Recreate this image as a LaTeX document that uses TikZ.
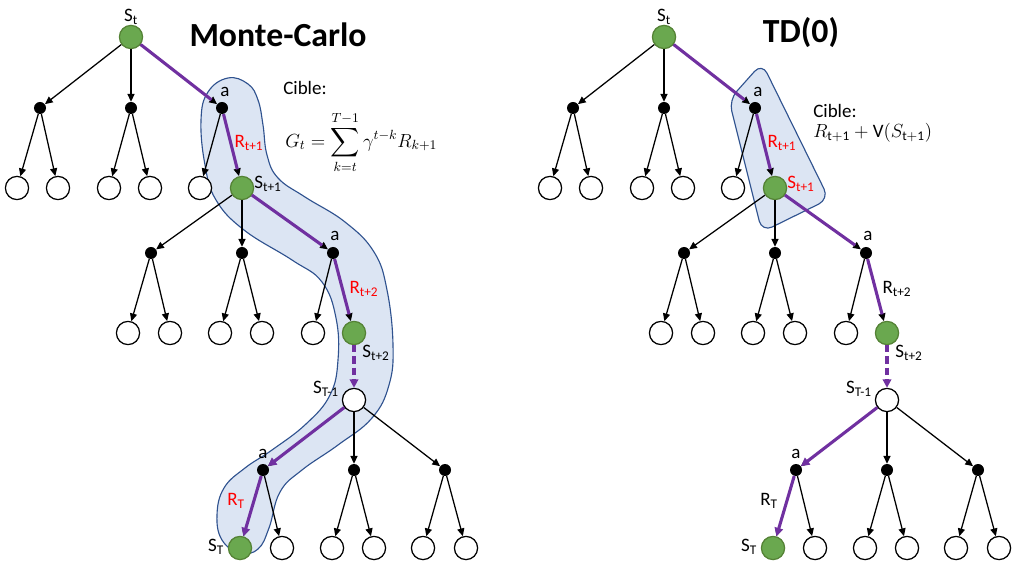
\RequirePackage{fix-cm}
\documentclass[tikz,border=0pt]{standalone}
\usepackage{amsmath}
\usepackage{fontspec}
\setmainfont{Carlito}
\usetikzlibrary{arrows.meta}

\definecolor{violetchemin}{RGB}{112,48,160}
\definecolor{vertfeuille}{RGB}{106,168,79}
\definecolor{vertbord}{RGB}{84,130,53}
\definecolor{bleuzone}{RGB}{220,229,243}
\definecolor{bordzone}{RGB}{47,82,143}

\tikzset{
  etat/.style={draw, circle, line width=0.9pt, minimum size=0.58cm, inner sep=0pt, fill=white},
  vert/.style={etat, fill=vertfeuille, draw=vertbord},
  action/.style={circle, fill=black, minimum size=0.3cm, inner sep=0pt},
  fleche/.style={-{Triangle[length=5.5pt,width=5pt]}, line width=0.9pt},
  chemin/.style={draw=violetchemin, line width=2.2pt},
  bout/.style={-{Triangle[length=6pt,width=6pt]}},
  etiq/.style={font=\fontsize{13.5}{16}\selectfont, inner sep=0pt},
  titre/.style={font=\fontsize{24}{29}\selectfont\bfseries, inner sep=0pt},
  zone/.style={fill=bleuzone, draw=bordzone, line width=0.8pt}
}

\begin{document}
\begin{tikzpicture}[x=0.025cm, y=-0.025cm]
		\useasboundingbox (0,0) rectangle (1024,576);
		% zones surlignees
		\draw[zone] plot[smooth cycle, tension=0.7] coordinates {(228,78) (248,84) (258,100) (263,125) (267,155) (278,178) (305,197) (345,222) (374,252) (387,290) (393,345) (389,385) (372,418) (338,445) (302,470) (280,492) (269,528) (258,549) (240,553) (222,540) (217,515) (224,488) (245,468) (272,450) (306,424) (330,395) (338,360) (336,318) (322,282) (292,260) (244,230) (216,200) (205,165) (201,120) (208,92)};
		\draw[zone, rounded corners=8pt] (729,100) -- (762,63) -- (829,199) -- (762,232) -- cycle;
		% titres et cibles
		\node[titre] (mc) at (278,35) {Monte-Carlo};
		\node[titre] (td) at (801,33) {TD(0)};
		\node[etiq, anchor=west] (cible1) at (283,88) {Cible:};
		\node[etiq, anchor=west] (gt) at (285,142) {$\displaystyle G_t=\sum_{k=t}^{T-1}\gamma^{t-k}R_{k+1}$};
		\node[etiq, anchor=west] (cible2) at (813,111) {Cible:};
		\node[etiq, anchor=west] (vt) at (813,133) {$R_{\mathrm{t+1}}+\mathrm{V}(S_{\mathrm{t+1}})$};
		% les deux arbres
		\foreach \p/\dx/\cs/\cr in {m/0/black/red, t/533/red/black}{
		\begin{scope}[xshift=\dx*0.025cm]
		\node[vert] (\p st) at (131,37) {};
		\node[action] (\p d1) at (40,108) {};
		\node[action] (\p d2) at (131,108) {};
		\node[action] (\p d3) at (222,108) {};
		\node[etat] (\p l1) at (17,188) {};
		\node[etat] (\p l2) at (58,188) {};
		\node[etat] (\p l3) at (109,188) {};
		\node[etat] (\p l4) at (150,188) {};
		\node[etat] (\p l5) at (200,188) {};
		\node[vert] (\p st1) at (242,188) {};
		\node[action] (\p e1) at (151,253) {};
		\node[action] (\p e2) at (242,253) {};
		\node[action] (\p e3) at (333,253) {};
		\node[etat] (\p m1) at (128,333) {};
		\node[etat] (\p m2) at (170,333) {};
		\node[etat] (\p m3) at (220,333) {};
		\node[etat] (\p m4) at (262,333) {};
		\node[etat] (\p m5) at (313,333) {};
		\node[vert] (\p st2) at (354,333) {};
		\node[etat] (\p sT1) at (354,400) {};
		\node[action] (\p f1) at (263,470) {};
		\node[action] (\p f2) at (354,470) {};
		\node[action] (\p f3) at (445,470) {};
		\node[vert] (\p sT) at (240,548) {};
		\node[etat] (\p n1) at (282,548) {};
		\node[etat] (\p n2) at (332,548) {};
		\node[etat] (\p n3) at (374,548) {};
		\node[etat] (\p n4) at (423,548) {};
		\node[etat] (\p n5) at (466,548) {};
		\path[fleche]
		(\p st) edge (\p d1) edge (\p d2) edge (\p d3)
		(\p d1) edge (\p l1) edge (\p l2)
		(\p d2) edge (\p l3) edge (\p l4)
		(\p d3) edge (\p l5) edge (\p st1)
		(\p st1) edge (\p e1) edge (\p e2) edge (\p e3)
		(\p e1) edge (\p m1) edge (\p m2)
		(\p e2) edge (\p m3) edge (\p m4)
		(\p e3) edge (\p m5) edge (\p st2)
		(\p sT1) edge (\p f1) edge (\p f2) edge (\p f3)
		(\p f1) edge (\p sT) edge (\p n1)
		(\p f2) edge (\p n2) edge (\p n3)
		(\p f3) edge (\p n4) edge (\p n5);
		% trajectoire
		\draw[chemin, shorten >=5pt] (\p st) -- (\p d3);
		\draw[chemin, shorten >=5pt] (\p d3) -- (\p st1);
		\draw[chemin, shorten >=5pt] (\p st1) -- (\p e3);
		\draw[chemin, shorten >=5pt] (\p e3) -- (\p st2);
		\draw[chemin, bout, dash pattern=on 5pt off 3pt] (\p st2) -- (\p sT1);
		\draw[chemin, bout] (\p sT1) -- (\p f1);
		\draw[chemin, bout] (\p f1) -- (\p sT);
		% etiquettes
		\node[etiq] (\p lst) at (131,17) {S\textsubscript{t}};
		\node[etiq] (\p la1) at (225,92) {a};
		\node[etiq, text=red] (\p lr1) at (249,143) {R\textsubscript{t+1}};
		\node[etiq, text=\cs] (\p ls1) at (268,184) {S\textsubscript{t+1}};
		\node[etiq] (\p la2) at (335,236) {a};
		\node[etiq, text=\cr] (\p lr2) at (364,289) {R\textsubscript{t+2}};
		\node[etiq] (\p ls2) at (376,353) {S\textsubscript{t+2}};
		\node[etiq] (\p lsT1) at (326,389) {S\textsubscript{T-1}};
		\node[etiq] (\p la3) at (263,454) {a};
		\node[etiq, text=\cr] (\p lrT) at (236,501) {R\textsubscript{T}};
		\node[etiq] (\p lsT) at (216,547) {S\textsubscript{T}};
		\end{scope}
		}
\end{tikzpicture}
\end{document}
